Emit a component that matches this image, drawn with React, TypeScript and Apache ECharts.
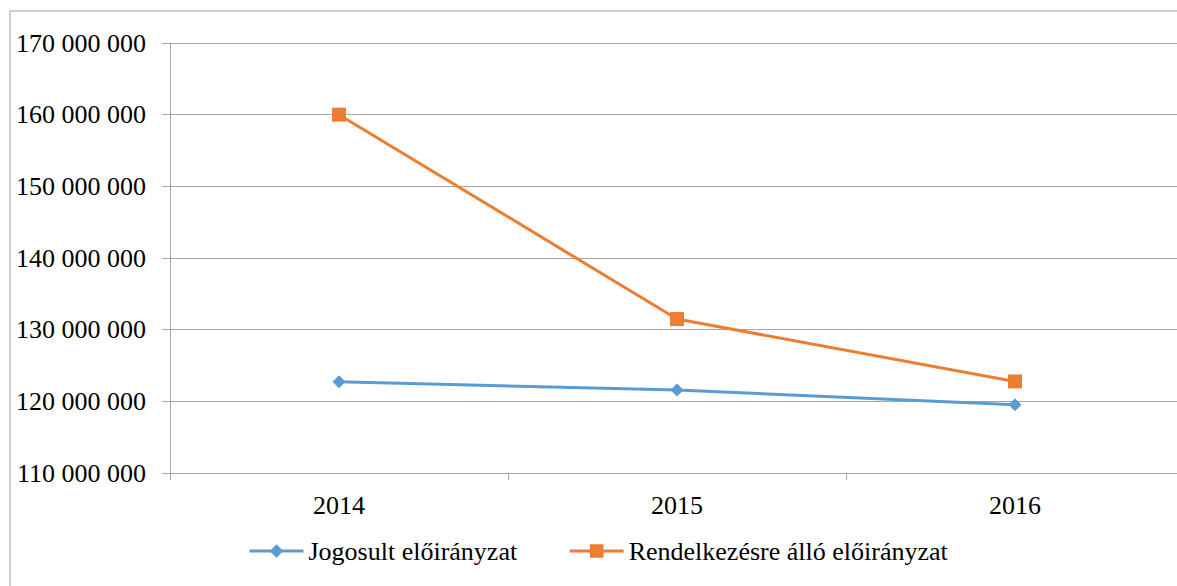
import React, { useEffect, useRef } from "react";
import * as echarts from "echarts";

const years = ["2014", "2015", "2016"];
const jogosult = [122730000, 121580000, 119530000];
const rendelkezesre = [160000000, 131480000, 122780000];
const yMin = 110000000;
const yMax = 170000000;
const yStep = 10000000;
const seriesNames = ["Jogosult előirányzat", "Rendelkezésre álló előirányzat"];

const FONT = "Liberation Serif";
const GRID = "#a6a6a6";

function fmt(v: number): string {
  return String(Math.round(v)).replace(/\B(?=(\d{3})+(?!\d))/g, " ");
}

export default function App() {
  const ref = useRef<HTMLDivElement>(null);
  useEffect(() => {
    if (!ref.current) return;
    const chart = echarts.init(ref.current, undefined, { renderer: "svg" });
    chart.setOption({
      animation: false,
      backgroundColor: "#ffffff",
      textStyle: { fontFamily: FONT },
      graphic: [
        {
          type: "rect",
          z: -10,
          shape: { x: 10, y: 11, width: 1400, height: 800 },
          style: { fill: "none", stroke: "#bfbfbf", lineWidth: 1.5 },
        },
      ],
      grid: {
        left: 170,
        top: 43,
        width: 1014,
        height: 430,
        containLabel: false,
        outerBoundsMode: "none",
      },
      legend: {
        left: 248,
        top: 538,
        padding: 0,
        itemWidth: 54,
        itemHeight: 17,
        itemGap: 51,
        data: seriesNames,
        lineStyle: { width: 3 },
        textStyle: { fontFamily: FONT, fontSize: 26, color: "#000" },
      },
      xAxis: {
        type: "category",
        data: years,
        boundaryGap: true,
        axisLine: { show: true, lineStyle: { color: GRID, width: 1 } },
        axisTick: { show: true, length: 7, lineStyle: { color: GRID } },
        axisLabel: { margin: 19, fontSize: 26, fontFamily: FONT, color: "#000" },
      },
      yAxis: {
        type: "value",
        min: yMin,
        max: yMax,
        interval: yStep,
        axisLine: { show: true, lineStyle: { color: GRID, width: 1 } },
        axisTick: { show: true, length: 8, lineStyle: { color: GRID } },
        splitLine: { show: true, lineStyle: { color: GRID, width: 1 } },
        axisLabel: {
          margin: 24,
          fontSize: 26,
          fontFamily: FONT,
          color: "#000",
          formatter: (v: number) => fmt(v),
        },
      },
      series: [
        {
          name: seriesNames[0],
          type: "line",
          data: jogosult,
          symbol: "diamond",
          symbolSize: 13,
          itemStyle: { color: "#5b9bd5" },
          lineStyle: { color: "#5b9bd5", width: 3 },
        },
        {
          name: seriesNames[1],
          type: "line",
          data: rendelkezesre,
          symbol: "rect",
          symbolSize: 14,
          itemStyle: { color: "#ed7d31" },
          lineStyle: { color: "#ed7d31", width: 3 },
        },
      ],
    });
    return () => chart.dispose();
  }, []);
  return (
    <div
      style={{
        position: "fixed",
        left: 0,
        top: 0,
        width: 1177,
        height: 586,
        overflow: "hidden",
        background: "#fff",
      }}
    >
      <div ref={ref} style={{ width: 1200, height: 586 }} />
    </div>
  );
}
